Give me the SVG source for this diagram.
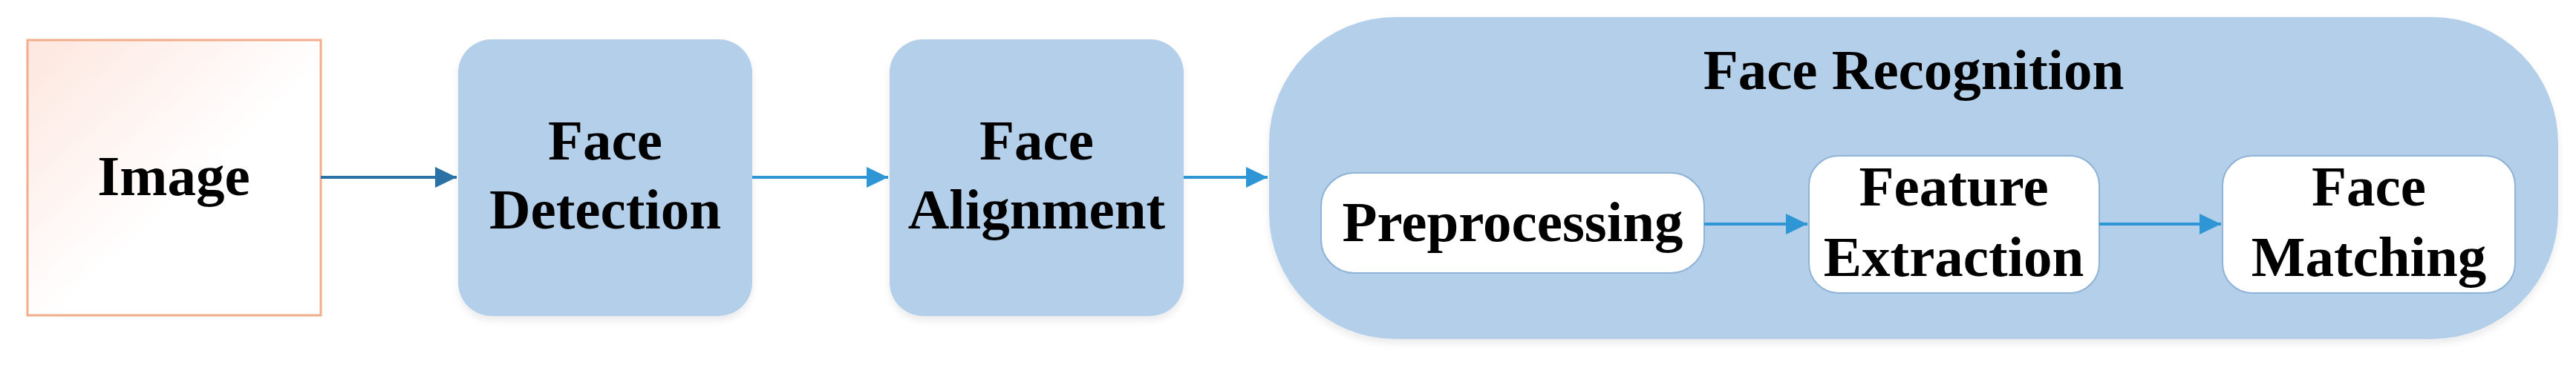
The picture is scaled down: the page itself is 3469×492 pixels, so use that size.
<svg xmlns="http://www.w3.org/2000/svg" width="3469" height="492" viewBox="0 0 3469 492">
<style>
.lbl{font-family:"Liberation Serif","Times New Roman",serif;font-weight:bold;font-size:77px;fill:#000;text-anchor:middle}
.blue{fill:#B4CFE9}
.inner{fill:#FFFFFF;stroke:#8FB3D6;stroke-width:2}
.c1{stroke:#2B71A6;stroke-width:4;fill:none}
.c2{stroke:#2F96D6;stroke-width:4;fill:none}
</style>
<defs>
<linearGradient id="imgGrad" x1="0" y1="0" x2="1" y2="1">
<stop offset="0" stop-color="#FDE6DE"/>
<stop offset="0.55" stop-color="#FFFFFF"/>
<stop offset="1" stop-color="#FFFFFF"/>
</linearGradient>
<filter id="sh" x="-10%" y="-10%" width="120%" height="130%">
<feDropShadow dx="0" dy="6" stdDeviation="5" flood-color="#000" flood-opacity="0.08"/>
</filter>
<marker id="ah1" markerUnits="userSpaceOnUse" markerWidth="30" markerHeight="28" refX="29" refY="14" orient="auto">
<path d="M0,0 L29,14 L0,28 Z" fill="#2B71A6"/>
</marker>
<marker id="ah2" markerUnits="userSpaceOnUse" markerWidth="30" markerHeight="28" refX="29" refY="14" orient="auto">
<path d="M0,0 L29,14 L0,28 Z" fill="#2F96D6"/>
</marker>
</defs>
<rect width="3469" height="492" fill="#FFFFFF"/>

<g id="image">
<rect x="37" y="54" width="395" height="371" fill="url(#imgGrad)" stroke="#F2AE8C" stroke-width="3"/>
<text class="lbl" x="234" y="263">Image</text>
</g>

<g id="face-detection">
<rect class="blue" x="617" y="53" width="396" height="373" rx="45" ry="45" filter="url(#sh)"/>
<text class="lbl" x="815" y="215">Face</text>
<text class="lbl" x="815" y="308">Detection</text>
</g>

<g id="face-alignment">
<rect class="blue" x="1198" y="53" width="396" height="373" rx="45" ry="45" filter="url(#sh)"/>
<text class="lbl" x="1396" y="215">Face</text>
<text class="lbl" x="1396" y="308">Alignment</text>
</g>

<g id="face-recognition">
<rect class="blue" x="1709" y="23" width="1736" height="434" rx="170" ry="170" filter="url(#sh)"/>
<text class="lbl" x="2577" y="120">Face Recognition</text>
</g>

<g id="preprocessing">
<rect class="inner" x="1779" y="233" width="516" height="135" rx="45" ry="45"/>
<text class="lbl" x="2037" y="325">Preprocessing</text>
</g>

<g id="feature-extraction">
<rect class="inner" x="2436" y="210" width="391" height="185" rx="40" ry="40"/>
<text class="lbl" x="2631" y="277">Feature</text>
<text class="lbl" x="2631" y="372">Extraction</text>
</g>

<g id="face-matching">
<rect class="inner" x="2993" y="210" width="394" height="185" rx="40" ry="40"/>
<text class="lbl" x="3190" y="277">Face</text>
<text class="lbl" x="3190" y="372">Matching</text>
</g>

<g id="connectors">
<line class="c1" x1="432" y1="239" x2="615" y2="239" marker-end="url(#ah1)"/>
<line class="c2" x1="1013" y1="239" x2="1196" y2="239" marker-end="url(#ah2)"/>
<line class="c2" x1="1594" y1="239" x2="1707" y2="239" marker-end="url(#ah2)"/>
<line class="c2" x1="2295" y1="302" x2="2434" y2="302" marker-end="url(#ah2)"/>
<line class="c2" x1="2827" y1="302" x2="2991" y2="302" marker-end="url(#ah2)"/>
</g>
</svg>
